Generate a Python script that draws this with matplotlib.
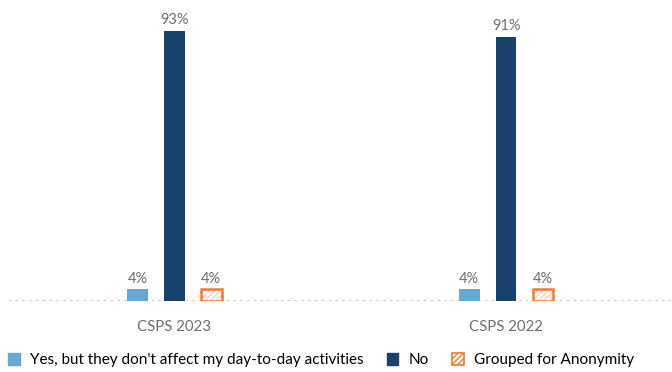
import numpy as np
import matplotlib.pyplot as plt
from matplotlib.patches import Patch

plt.rcParams['font.family'] = ['Lato', 'DejaVu Sans']
plt.rcParams['hatch.linewidth'] = 1.0

# data
groups = ["CSPS 2023", "CSPS 2022"]
series = ["Yes, but they don't affect my day-to-day activities", "No", "Grouped for Anonymity"]
yes_vals = [4, 4]
no_vals = [93, 91]
grouped_vals = [4, 4]

c_yes = "#67a9d2"
c_no = "#17426b"
c_grp = "#f4792e"
c_hatch = "#fbd0b4"
c_text = "#6e6e6e"

fig = plt.figure(figsize=(6.72, 3.72), dpi=100)
ax = fig.add_axes([0.013, 0.191, 0.987, 0.809])

x = np.arange(len(groups)) + 0.5
w = 0.062
off = 0.111

ax.bar(x - off, yes_vals, w, color=c_yes, zorder=3)
ax.bar(x, no_vals, w, color=c_no, zorder=3)
# hatched bar: hatch layer + outline
ax.bar(x + off, grouped_vals, w, facecolor="white", edgecolor=c_hatch, hatch="//////", linewidth=0, zorder=3)
ax.bar(x + off, grouped_vals, w, facecolor="none", edgecolor=c_grp, linewidth=1.8, zorder=4)

for vals, dx in [(yes_vals, -off), (no_vals, 0), (grouped_vals, off)]:
    for xi, v in zip(x, vals):
        ax.text(xi + dx, v + 1.3, f"{v}%", ha="center", va="bottom", color=c_text, fontsize=10.5)

ax.set_xlim(0, 2)
ax.set_ylim(0, 103.7)
ax.axhline(0, color="#bdbdbd", linestyle=(0, (1, 2.5)), linewidth=1.4, zorder=2)

for s in ax.spines.values():
    s.set_visible(False)
ax.set_yticks([])
ax.set_xticks(x)
ax.set_xticklabels(groups, color=c_text, fontsize=10.8)
ax.tick_params(axis="x", length=0, pad=14)

handles = [
    Patch(facecolor=c_yes, edgecolor=c_yes),
    Patch(facecolor=c_no, edgecolor=c_no),
    Patch(facecolor="white", edgecolor=c_grp, hatch="//////", linewidth=1.2),
]
fig.legend(handles, series, loc="lower left", bbox_to_anchor=(0.003, -0.004), ncol=3,
           frameon=False, fontsize=11, handlelength=0.75, handleheight=0.75,
           handletextpad=0.7, columnspacing=1.5, borderaxespad=0)

fig.savefig("out.png", dpi=100)
